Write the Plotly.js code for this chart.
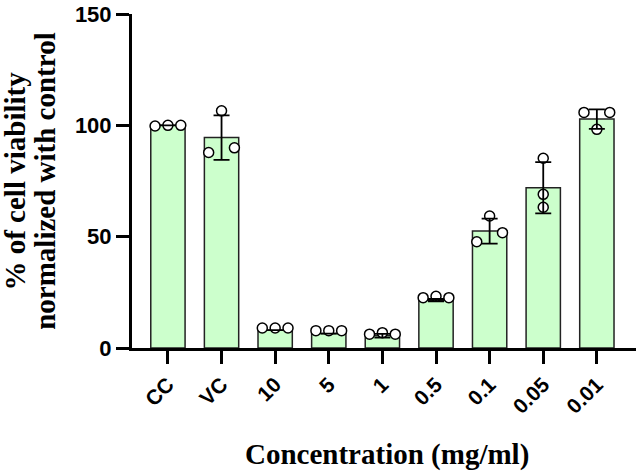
<!DOCTYPE html>
<html>
<head>
<meta charset="utf-8">
<script src="https://cdn.plot.ly/plotly-3.0.1.min.js"></script>
<style>
  html, body { margin: 0; padding: 0; background: #fff; }
  #chart { width: 644px; height: 473px; }
</style>
</head>
<body>
<div id="chart"></div>
<script>
// concentrations (mg/ml) + controls
const categories = ['CC', 'VC', '10', '5', '1', '0.5', '0.1', '0.05', '0.01'];
const meanViability = [100, 94.5, 8, 6.5, 5.5, 21.5, 52.5, 72, 102.8];
const sdViability = [0, 10, 0, 0, 0.8, 0.5, 5.6, 11.5, 4.4];

// individual replicates
const rep1 = [99.7, 87.8, 9, 7.8, 6.2, 22.6, 47.7, 63.2, 105.8];
const rep2 = [100, 106.5, 9, 7.8, 6.9, 23.2, 59.3, 85.2, 98.2];
const rep3 = [100, 89.9, 9, 7.8, 6.2, 22.6, 51.8, 69, 105.8];

const xTitle = 'Concentration (mg/ml)';
const yTitleLines = ['% of cell viability', 'normalized with control'];

const green = '#ccffcc';
const sans = 'Liberation Sans, Arial, sans-serif';
const serif = 'Liberation Serif, Times New Roman, serif';

// spread overlapping points sideways, like a small swarm
function dodge(values, gap, spread) {
    const order = values.map((v, i) => i).sort((a, b) => values[a] - values[b]);
    const offsets = new Array(values.length).fill(0);
    let cluster = [order[0]];
    const flush = () => {
        const n = cluster.length;
        if (n > 1) {
            cluster.sort((a, b) => a - b);
            cluster.forEach((idx, k) => {
                offsets[idx] = -spread + (2 * spread * k) / (n - 1);
            });
        }
    };
    for (let k = 1; k < order.length; k++) {
        const prev = order[k - 1], cur = order[k];
        if (values[cur] - values[prev] < gap) {
            cluster.push(cur);
        } else {
            flush();
            cluster = [cur];
        }
    }
    flush();
    return offsets;
}

const xs = categories.map((c, i) => i);
let ptX = [], ptY = [];
categories.forEach((c, i) => {
    const vals = [rep1[i], rep2[i], rep3[i]];
    const off = dodge(vals, 4.5, 0.24);
    vals.forEach((v, k) => {
        ptX.push(i + off[k]);
        ptY.push(v);
    });
});

const traces = [
    {
        type: 'bar',
        x: xs,
        y: meanViability,
        width: 0.64,
        marker: { color: green, line: { color: '#222', width: 1.5 } },
        hoverinfo: 'skip'
    },
    {
        type: 'scatter',
        mode: 'markers',
        x: ptX,
        y: ptY,
        marker: { size: 10, color: '#fff', line: { color: '#000', width: 1.5 } },
        cliponaxis: false,
        hoverinfo: 'skip'
    },
    {
        // error bars on top of the dots
        type: 'scatter',
        mode: 'markers',
        x: xs,
        y: meanViability,
        marker: { size: 1, color: 'rgba(0,0,0,0)' },
        error_y: { type: 'data', array: sdViability, visible: true, color: '#000', thickness: 1.8, width: 8 },
        cliponaxis: false,
        hoverinfo: 'skip'
    }
];

const titleFont = { family: serif, size: 29, color: '#000', weight: 'bold' };

const layout = {
    width: 644,
    height: 473,
    margin: { l: 132, r: 8, t: 14, b: 125 },
    showlegend: false,
    paper_bgcolor: '#fff',
    plot_bgcolor: '#fff',
    bargap: 0,
    xaxis: {
        range: [-0.67, 8.73],
        tickmode: 'array',
        tickvals: xs,
        ticktext: categories,
        tickangle: -45,
        ticks: 'outside',
        ticklen: 13,
        tickwidth: 3,
        tickcolor: '#000',
        showline: true,
        linewidth: 3,
        linecolor: '#000',
        showgrid: false,
        zeroline: false,
        tickfont: { family: sans, size: 21, color: '#000', weight: 'bold' },
        automargin: false
    },
    yaxis: {
        range: [0, 150],
        tickvals: [0, 50, 100, 150],
        ticks: 'outside',
        ticklen: 13,
        tickwidth: 3,
        tickcolor: '#000',
        showline: true,
        linewidth: 3,
        linecolor: '#000',
        showgrid: false,
        zeroline: false,
        tickfont: { family: sans, size: 22, color: '#000', weight: 'bold' },
        automargin: false
    },
    // axis titles as annotations so the tight line spacing can be matched
    annotations: [
        {
            text: xTitle, xref: 'paper', yref: 'paper', x: 0.505, y: -0.32,
            xanchor: 'center', yanchor: 'middle', showarrow: false, font: titleFont
        },
        {
            text: yTitleLines[0], xref: 'paper', yref: 'paper', x: -0.233, y: 0.5,
            xanchor: 'center', yanchor: 'middle', textangle: -90, showarrow: false, font: titleFont
        },
        {
            text: yTitleLines[1], xref: 'paper', yref: 'paper', x: -0.173, y: 0.5,
            xanchor: 'center', yanchor: 'middle', textangle: -90, showarrow: false, font: titleFont
        }
    ]
};

Plotly.newPlot('chart', traces, layout, { displayModeBar: false, staticPlot: true });
</script>
</body>
</html>
